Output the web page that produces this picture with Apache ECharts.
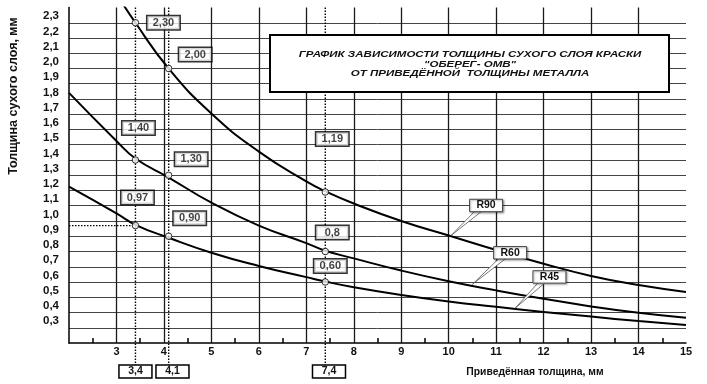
<!DOCTYPE html>
<html><head><meta charset="utf-8">
<script src="https://cdn.jsdelivr.net/npm/echarts@6/dist/echarts.min.js"></script>
<style>html,body{margin:0;padding:0;background:#fff}#c{width:707px;height:384px}</style>
</head><body><div id="c"></div>
<script>
// ---- data ----
const thickness = [2, 3, 3.4, 4.1, 5, 6, 7, 7.4, 8, 9, 10, 11, 12, 13, 14, 15];
const r90 = [null, 2.49, 2.30, 2.00, 1.705, 1.455, 1.26, 1.195, 1.115, 1.00, 0.905, 0.81, 0.72, 0.64, 0.58, 0.535];
const r60 = [1.84, 1.525, 1.41, 1.285, 1.12, 0.97, 0.855, 0.805, 0.755, 0.675, 0.605, 0.545, 0.49, 0.44, 0.398, 0.365];
const r45 = [1.225, 1.05, 0.975, 0.89, 0.792, 0.705, 0.632, 0.603, 0.566, 0.515, 0.472, 0.437, 0.404, 0.373, 0.344, 0.318];
const seriesNames = ['R90', 'R60', 'R45'];
const markX = [3.4, 4.1, 3.4, 4.1, 3.4, 4.1, 7.4, 7.4, 7.4];
const markY = [2.30, 2.00, 1.40, 1.30, 0.97, 0.90, 1.19, 0.80, 0.60];
const markText = ['2,30', '2,00', '1,40', '1,30', '0,97', '0,90', '1,19', '0,8', '0,60'];
const guideX = [3.4, 4.1, 7.4];
const guideText = ['3,4', '4,1', '7,4'];
const calloutX = [10.05, 10.5, 11.4];
const calloutY = [0.905, 0.585, 0.428];
const titleLines = ['ГРАФИК ЗАВИСИМОСТИ ТОЛЩИНЫ СУХОГО СЛОЯ КРАСКИ', '"ОБЕРЕГ- ОМВ"', 'ОТ ПРИВЕДЁННОЙ  ТОЛЩИНЫ МЕТАЛЛА'];
const xName = 'Приведённая толщина, мм';
const yName = 'Толщина сухого слоя, мм';

// ---- layout (pixels / styles) ----
const markOffset = [[28, 0], [26.5, -14], [3, -32], [22.5, -16], [2, -28], [21, -18], [7, -53], [7, -19], [5, -16]];
const guideBoxShift = [0, 3.8, 3.7];
const calloutOffset = [[35, -30], [37.7, -31.5], [34.3, -31.3]];
const FONT = 'Liberation Sans, Arial, sans-serif';

const chart = echarts.init(document.getElementById('c'));
const curves = [r90, r60, r45].map((arr, k) => ({
  type: 'line', name: seriesNames[k],
  data: thickness.map((x, i) => [x, arr[i]]),
  smooth: 0.5, showSymbol: false, clip: true, silent: true,
  lineStyle: { color: '#000', width: 2 }, z: 3
}));

const option = {
  animation: false,
  backgroundColor: '#fff',
  grid: { left: 69, right: 21, top: 7.5, bottom: 41 },
  xAxis: {
    type: 'value', min: 2, max: 15, interval: 1,
    axisLine: { show: true, lineStyle: { color: '#000', width: 1.5 } },
    axisTick: { show: false, inside: true },
    minorTick: { show: true, splitNumber: 2, length: 5, lineStyle: { color: '#000', width: 1.5 } },
    splitLine: { show: true, showMinLine: false, showMaxLine: false, lineStyle: { color: '#1a1a1a', width: 1.3 } },
    axisLabel: { margin: 3, fontFamily: FONT, fontWeight: 'bold', fontSize: 11, color: '#111',
      formatter: v => v === 2 ? '' : String(v) }
  },
  yAxis: {
    type: 'value', min: 0.2, max: 2.4, interval: 0.1,
    axisLine: { show: true, lineStyle: { color: '#000', width: 1.5 } },
    axisTick: { show: false },
    splitLine: { show: true, showMinLine: false, showMaxLine: false, lineStyle: { color: '#444', width: 1 } },
    axisLabel: { margin: 10, fontFamily: FONT, fontWeight: 'bold', fontSize: 11.5, color: '#111',
      verticalAlign: 'bottom', lineHeight: 13,
      formatter: v => (v < 0.25 || v > 2.35) ? '' : v.toFixed(1).replace('.', ',') }
  },
  series: curves.concat([{
    type: 'scatter', silent: true, z: 6,
    data: markX.map((x, i) => ({ value: [x, markY[i]], label: { offset: markOffset[i] } })),
    symbol: 'circle', symbolSize: 6.5,
    itemStyle: { color: '#fff', borderColor: '#000', borderWidth: 1 },
    label: {
      show: true, position: 'inside', formatter: p => markText[p.dataIndex],
      fontFamily: FONT, fontWeight: 'bold', fontSize: 11, color: '#111',
      backgroundColor: '#fff', borderColor: '#000', borderWidth: 1.5,
      width: 32, align: 'center', lineHeight: 11, padding: [1, 0]
    }
  }])
};
chart.setOption(option);

const P = (x, y) => chart.convertToPixel({ gridIndex: 0 }, [x, y]);
const g = [];
const dotted = { stroke: '#000', lineWidth: 1.4, lineDash: [1.5, 1.5] };
guideX.forEach((x, i) => {
  const t = P(x, 2.4), b = P(x, 0.2);
  const bx = t[0] + guideBoxShift[i];
  g.push({ type: 'line', z: 4, shape: { x1: t[0], y1: t[1], x2: t[0], y2: b[1] + 22 }, style: dotted });
  g.push({ type: 'rect', z: 7, shape: { x: bx - 16.5, y: b[1] + 22, width: 33, height: 13 }, style: { fill: '#fff', stroke: '#000', lineWidth: 1.5 } });
  g.push({ type: 'text', z: 8, x: bx, y: b[1] + 28.5, style: { text: guideText[i], font: 'bold 10.5px ' + FONT, align: 'center', verticalAlign: 'middle', fill: '#111' } });
});
{
  const a = P(2, markY[4]), b = P(markX[4], markY[4]);
  g.push({ type: 'line', z: 4, shape: { x1: a[0], y1: a[1], x2: b[0], y2: b[1] }, style: dotted });
}
seriesNames.forEach((n, i) => {
  const tip = P(calloutX[i], calloutY[i]);
  const cx = tip[0] + calloutOffset[i][0], cy = tip[1] + calloutOffset[i][1];
  g.push({ type: 'polygon', z: 7, shape: { points: [tip, [cx - 11, cy + 5.5], [cx - 4, cy + 5.5]] }, style: { fill: '#fff', stroke: '#555', lineWidth: 0.8 } });
  g.push({ type: 'rect', z: 8, shape: { x: cx - 16.5, y: cy - 6.2, width: 33, height: 12.4 }, style: { fill: '#fff', stroke: '#444', lineWidth: 1, shadowBlur: 2, shadowColor: 'rgba(0,0,0,0.35)', shadowOffsetX: 1, shadowOffsetY: 1 } });
  g.push({ type: 'text', z: 9, x: cx, y: cy, style: { text: n, font: 'bold 10.5px ' + FONT, align: 'center', verticalAlign: 'middle', fill: '#111' } });
});
// title box
g.push({ type: 'rect', z: 10, shape: { x: 270, y: 35, width: 399, height: 57 }, style: { fill: '#fff', stroke: '#000', lineWidth: 2 } });
titleLines.forEach((t, i) => {
  g.push({ type: 'text', z: 11, x: 470, y: 55 + i * 9.3, scaleX: 1.28, style: { text: t, font: 'italic bold 9px ' + FONT, align: 'center', verticalAlign: 'middle', fill: '#111' } });
});
// axis names
g.push({ type: 'text', z: 11, x: 535, y: 371.5, scaleX: 0.9, style: { text: xName, font: 'bold 11.5px ' + FONT, align: 'center', verticalAlign: 'middle', fill: '#111' } });
g.push({ type: 'text', z: 11, x: 14, y: 96, rotation: Math.PI / 2, style: { text: yName, font: 'bold 12.5px ' + FONT, align: 'center', verticalAlign: 'middle', fill: '#111' } });
chart.setOption({ graphic: g });
</script>
</body></html>
